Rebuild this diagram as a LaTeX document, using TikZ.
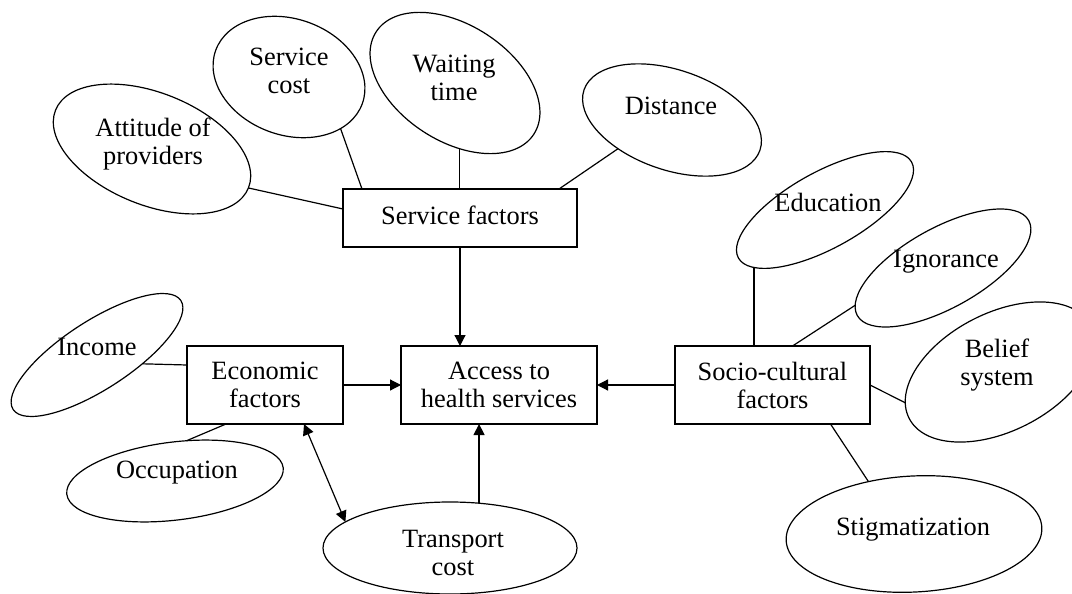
\documentclass[tikz,border=0pt]{standalone}
\usepackage{fontspec}
\setmainfont{Liberation Serif}
\usetikzlibrary{arrows.meta}
\usetikzlibrary{shapes.geometric}
\usetikzlibrary{calc}

\begin{document}
\begin{tikzpicture}[x=0.5pt, y=-0.5pt, line width=0.6pt,
    every node/.style={font=\fontsize{13.2}{14}\selectfont, align=center},
    factor/.style={draw, rectangle, line width=0.7pt, minimum height=39pt, inner sep=0pt, outer sep=0pt},
    oval/.style={draw, ellipse, inner sep=0pt, outer sep=0pt},
    tip/.style={-{Triangle[length=5.5pt, width=5.5pt]}},
    tips/.style={{Triangle[length=5.5pt, width=5.5pt]}-{Triangle[length=5.5pt, width=5.5pt]}}]

\useasboundingbox (0,0) rectangle (1072,594);

%factor boxes
\node[factor, minimum width=117pt, minimum height=29pt] (serv) at (460,218) {\raisebox{3pt}{Service factors}};
\node[factor, minimum width=98pt] (acc) at (499,385) {Access to\\health services};
\node[factor, minimum width=78pt] (eco) at (265,385) {Economic\\factors};
\node[factor, minimum width=97.5pt] (soc) at (772.5,385) {Socio-cultural\\factors};

%ovals (shape turned, text kept level)
\node[oval, rotate=-22, minimum width=104pt, minimum height=56pt] (att) at (152,149) {};
\node (att-t) at (153,144) {Attitude of\\providers};
\node[oval, rotate=-20, minimum width=78pt, minimum height=58pt] (scost) at (289,77) {};
\node (scost-t) at (289,71) {Service\\cost};
\node[oval, rotate=-33, minimum width=94pt, minimum height=58pt] (wait) at (455,83) {};
\node (wait-t) at (454,78) {Waiting\\time};
\node[oval, rotate=-19, minimum width=93pt, minimum height=50pt] (dist) at (672,120) {};
\node (dist-t) at (671,106) {Distance};
\node[oval, rotate=29, minimum width=99pt, minimum height=38pt] (edu) at (825,210) {};
\node (edu-t) at (828,202) {Education};
\node[oval, rotate=29, minimum width=98pt, minimum height=40pt] (ign) at (943,268) {};
\node (ign-t) at (946,262) {Ignorance};
\node[oval, rotate=27, minimum width=102pt, minimum height=59pt] (bel) at (1000,372) {};
\node (bel-t) at (997,365) {Belief\\system};
\node[oval, rotate=3, minimum width=128pt, minimum height=58pt] (stig) at (914,534) {};
\node (stig-t) at (913,530) {Stigmatization};
\node[oval, rotate=33, minimum width=100pt, minimum height=34pt] (inc) at (97,355) {};
\node (inc-t) at (97,347) {Income};
\node[oval, rotate=7, minimum width=109pt, minimum height=39pt] (occ) at (175,481) {};
\node (occ-t) at (177,473) {Occupation};
\node[oval, minimum width=127pt, minimum height=46pt] (trans) at (450,548) {};
\node (trans-t) at (453,553) {Transport\\cost};

%links to the factor boxes
\draw (att.0) -- ($(serv.west)+(0,-9)$);
\draw (scost.-25) -- ($(serv.north west)+(19,0)$);
\draw (wait.-53) -- (wait.-53 |- serv.north);
\draw (dist.-133) -- ($(serv.north east)+(-18,0)$);

\draw (edu.-170) -- (edu.-170 |- soc.north);
\draw (ign.174) -- ($(soc.north)+(20,0)$);
\draw (bel.171) -- (soc.east);
\draw (stig.128) -- ($(soc.south)+(58,0)$);

\draw (inc.-44) -- ($(eco.west)+(0,-20)$);
\draw (occ.67) -- ($(eco.south)+(-39,0)$);

%arrows into access
\draw[tip] (serv.south) -- (serv.south |- acc.north);
\draw[tip] (eco.east) -- (acc.west);
\draw[tip] (soc.west) -- (acc.east);
\draw[tip] (trans.57) -- (trans.57 |- acc.south);
\draw[tips] ($(eco.south east)+(-39,0)$) -- (trans.166);

\end{tikzpicture}
\end{document}
